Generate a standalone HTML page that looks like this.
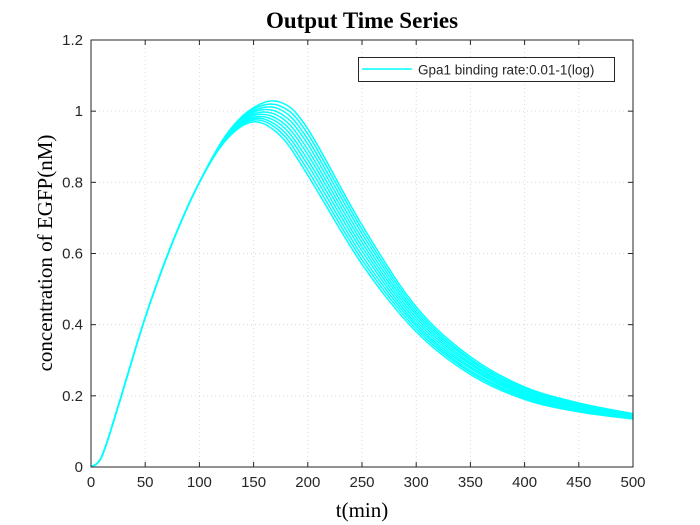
<!DOCTYPE html>
<html><head><meta charset="utf-8"><style>body{margin:0;background:#fff}svg{display:block}</style></head>
<body>
<svg id="c" width="700" height="525" xmlns="http://www.w3.org/2000/svg">
<rect width="700" height="525" fill="#fff"/>
<g id="grid"></g><g id="series"></g><g id="axes"></g>
<text x="362" y="28" text-anchor="middle" font-family="Liberation Serif, serif" font-weight="bold" font-size="23">Output Time Series</text>
<text x="362" y="517" text-anchor="middle" font-family="Liberation Serif, serif" font-size="21">t(min)</text>
<text transform="translate(52,253) rotate(-90)" text-anchor="middle" font-family="Liberation Serif, serif" font-size="21">concentration of EGFP(nM)</text>
<g>
<rect x="358.5" y="57.5" width="256" height="24" fill="#fff" stroke="#262626" stroke-width="1"/>
<line x1="362" y1="69" x2="412" y2="69" stroke="#00ffff" stroke-width="1.5"/>
<text x="418" y="74.5" font-family="Liberation Sans, sans-serif" font-size="13.5" fill="#262626">Gpa1 binding rate:0.01-1(log)</text>
</g>
</svg>
<script>
const times=[0,10,25,50,75,100,125,150,175,200,250,300,350,400,450,500];
const earlyValues=[0,0.03,0.17,0.42,0.63,0.80];
const s0=[0.920,0.970,0.930,0.820,0.570,0.380,0.260,0.190,0.155,0.135];
const s1=[0.922,0.975,0.941,0.834,0.582,0.388,0.266,0.194,0.158,0.137];
const s2=[0.923,0.979,0.951,0.849,0.594,0.396,0.271,0.198,0.161,0.138];
const s3=[0.925,0.983,0.962,0.863,0.607,0.403,0.277,0.202,0.163,0.140];
const s4=[0.927,0.988,0.972,0.878,0.619,0.411,0.282,0.206,0.166,0.142];
const s5=[0.928,0.992,0.983,0.892,0.631,0.419,0.288,0.209,0.169,0.143];
const s6=[0.930,0.997,0.993,0.907,0.643,0.427,0.293,0.213,0.172,0.145];
const s7=[0.932,1.001,1.004,0.921,0.656,0.434,0.299,0.217,0.174,0.147];
const s8=[0.933,1.006,1.014,0.936,0.668,0.442,0.304,0.221,0.177,0.148];
const s9=[0.935,1.010,1.025,0.950,0.680,0.450,0.310,0.225,0.180,0.150];
const seriesList=[s0,s1,s2,s3,s4,s5,s6,s7,s8,s9];
const xTicks=[0,50,100,150,200,250,300,350,400,450,500];
const yTicks=[0,0.2,0.4,0.6,0.8,1,1.2];
const yTickLabels=['0','0.2','0.4','0.6','0.8','1','1.2'];

const L=91,R=633,T=40,B=467;
const xs=v=>L+(v-0)/(500-0)*(R-L);
const ys=v=>B-(v-0)/(1.2-0)*(B-T);
const NS='http://www.w3.org/2000/svg';
function mk(tag,attrs,parent){const e=document.createElementNS(NS,tag);for(const k in attrs)e.setAttribute(k,attrs[k]);parent.appendChild(e);return e;}
const grid=document.getElementById('grid'),axes=document.getElementById('axes'),ser=document.getElementById('series');
mk('rect',{x:L,y:T,width:R-L,height:B-T,fill:'#fff'},grid);
xTicks.forEach(t=>{
  const x=xs(t);
  if(t>0&&t<500){const g=mk('line',{x1:x,y1:T,x2:x,y2:B,stroke:'#d9d9d9','stroke-dasharray':'1,3','stroke-width':1},grid);
  
  }
  mk('line',{x1:x,y1:B,x2:x,y2:B-5,stroke:'#262626'},axes);
  mk('line',{x1:x,y1:T,x2:x,y2:T+5,stroke:'#262626'},axes);
  const tx=mk('text',{x:x,y:B+20,'text-anchor':'middle','font-family':'Liberation Sans, sans-serif','font-size':15,fill:'#262626'},axes);
  tx.textContent=String(t);
  
  
});
yTicks.forEach((v,i)=>{
  const y=ys(v);
  if(v>0&&v<1.2){const g=mk('line',{x1:L,y1:y,x2:R,y2:y,stroke:'#d9d9d9','stroke-dasharray':'1,3','stroke-width':1},grid);
  
  }
  mk('line',{x1:L,y1:y,x2:L+5,y2:y,stroke:'#262626'},axes);
  mk('line',{x1:R,y1:y,x2:R-5,y2:y,stroke:'#262626'},axes);
  const tx=mk('text',{x:L-8,y:y+5,'text-anchor':'end','font-family':'Liberation Sans, sans-serif','font-size':15,fill:'#262626'},axes);
  tx.textContent=yTickLabels[i];
  
  
});
const frame=mk('rect',{x:L,y:T,width:R-L,height:B-T,fill:'none',stroke:'#262626','stroke-width':1},axes);


function pathFrom(pts){
  let d='M'+pts[0][0]+','+pts[0][1];
  for(let i=0;i<pts.length-1;i++){
    const p0=pts[i-1]||pts[i],p1=pts[i],p2=pts[i+1],p3=pts[i+2]||p2;
    const c1=[p1[0]+(p2[0]-p0[0])/6,p1[1]+(p2[1]-p0[1])/6];
    const c2=[p2[0]-(p3[0]-p1[0])/6,p2[1]-(p3[1]-p1[1])/6];
    d+=' C'+c1[0]+','+c1[1]+' '+c2[0]+','+c2[1]+' '+p2[0]+','+p2[1];
  }
  return d;
}
seriesList.forEach(s=>{
  const vals=earlyValues.concat(s);
  const pts=times.map((t,i)=>[xs(t),ys(vals[i])]);
  const p=mk('path',{d:pathFrom(pts),fill:'none',stroke:'#00ffff','stroke-width':1.5},ser);
  
  
});
</script>
</body></html>
